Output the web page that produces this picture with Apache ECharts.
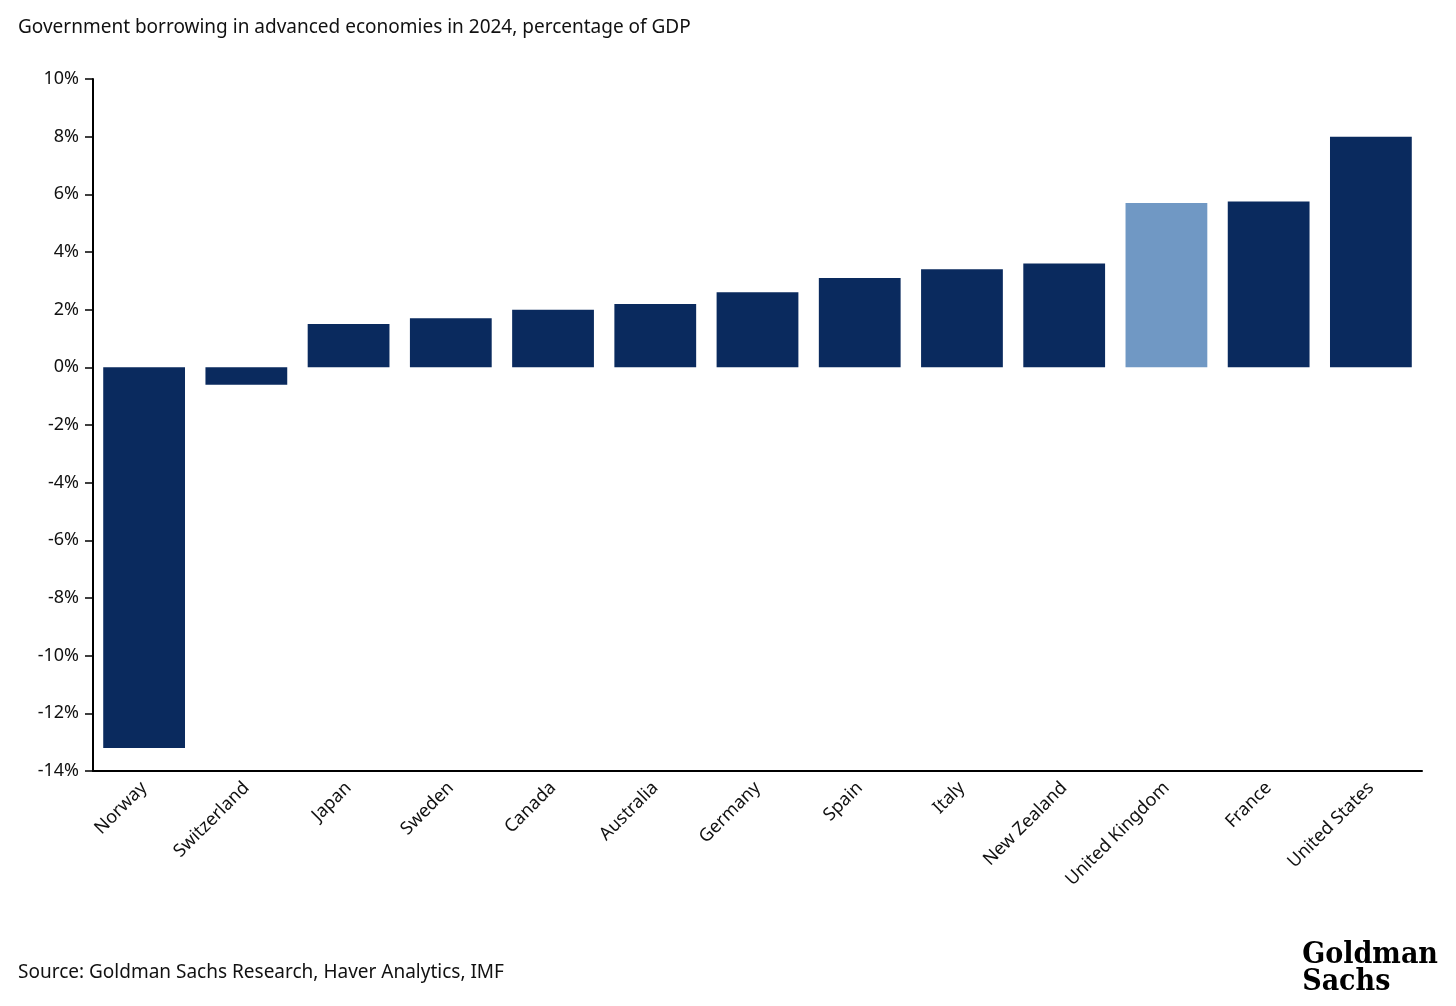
<!DOCTYPE html>
<html><head><meta charset="utf-8">
<script src="https://cdn.jsdelivr.net/npm/echarts@6/dist/echarts.min.js"></script>
<style>html,body{margin:0;padding:0;background:#fff}#c{width:1456px;height:1006px}</style>
</head><body><div id="c"></div>
<script>
const categories = ["Norway","Switzerland","Japan","Sweden","Canada","Australia","Germany","Spain","Italy","New Zealand","United Kingdom","France","United States"];
const values = [-13.2,-0.6,1.5,1.7,2.0,2.2,2.6,3.1,3.4,3.6,5.7,5.75,8.0];
const highlight = "United Kingdom";
const chart = echarts.init(document.getElementById('c'));
const txt = '#111';
chart.setOption({
  animation:false,
  textStyle:{fontFamily:'Noto Sans'},
  graphic:[
    {type:'text',left:18,top:18,style:{text:'Government borrowing in advanced economies in 2024, percentage of GDP',fontSize:19,fill:txt,fontFamily:'Noto Sans'}},
    {type:'text',left:18,top:963,style:{text:'Source: Goldman Sachs Research, Haver Analytics, IMF',fontSize:19,fill:txt,fontFamily:'Noto Sans'}},
    {type:'text',right:18,top:940,style:{text:'Goldman\nSachs',fontSize:30,lineHeight:27,fontWeight:'bold',fill:'#000',fontFamily:'DejaVu Serif Condensed, DejaVu Serif'}}
  ],
  grid:{left:93,right:34,top:79,bottom:235,containLabel:false},
  xAxis:{type:'category',data:categories,
    axisLine:{onZero:false,lineStyle:{color:'#000',width:2}},
    axisTick:{alignWithLabel:true,length:8,lineStyle:{color:'#000',width:1.5}},
    axisLabel:{rotate:45,color:txt,fontSize:18,margin:14}},
  yAxis:{type:'value',min:-14,max:10,interval:2,splitLine:{show:false},
    axisLine:{show:true,lineStyle:{color:'#000',width:2}},
    axisTick:{show:true,length:8,lineStyle:{color:'#000',width:1.5}},
    axisLabel:{formatter:'{value}%',color:txt,fontSize:18,margin:14}},
  series:[{type:'bar',barCategoryGap:'20%',
    data:values.map((v,i)=>({value:v,itemStyle:{color:categories[i]===highlight?'#7098c4':'#0a2a5e'}}))}]
});
</script></body></html>
